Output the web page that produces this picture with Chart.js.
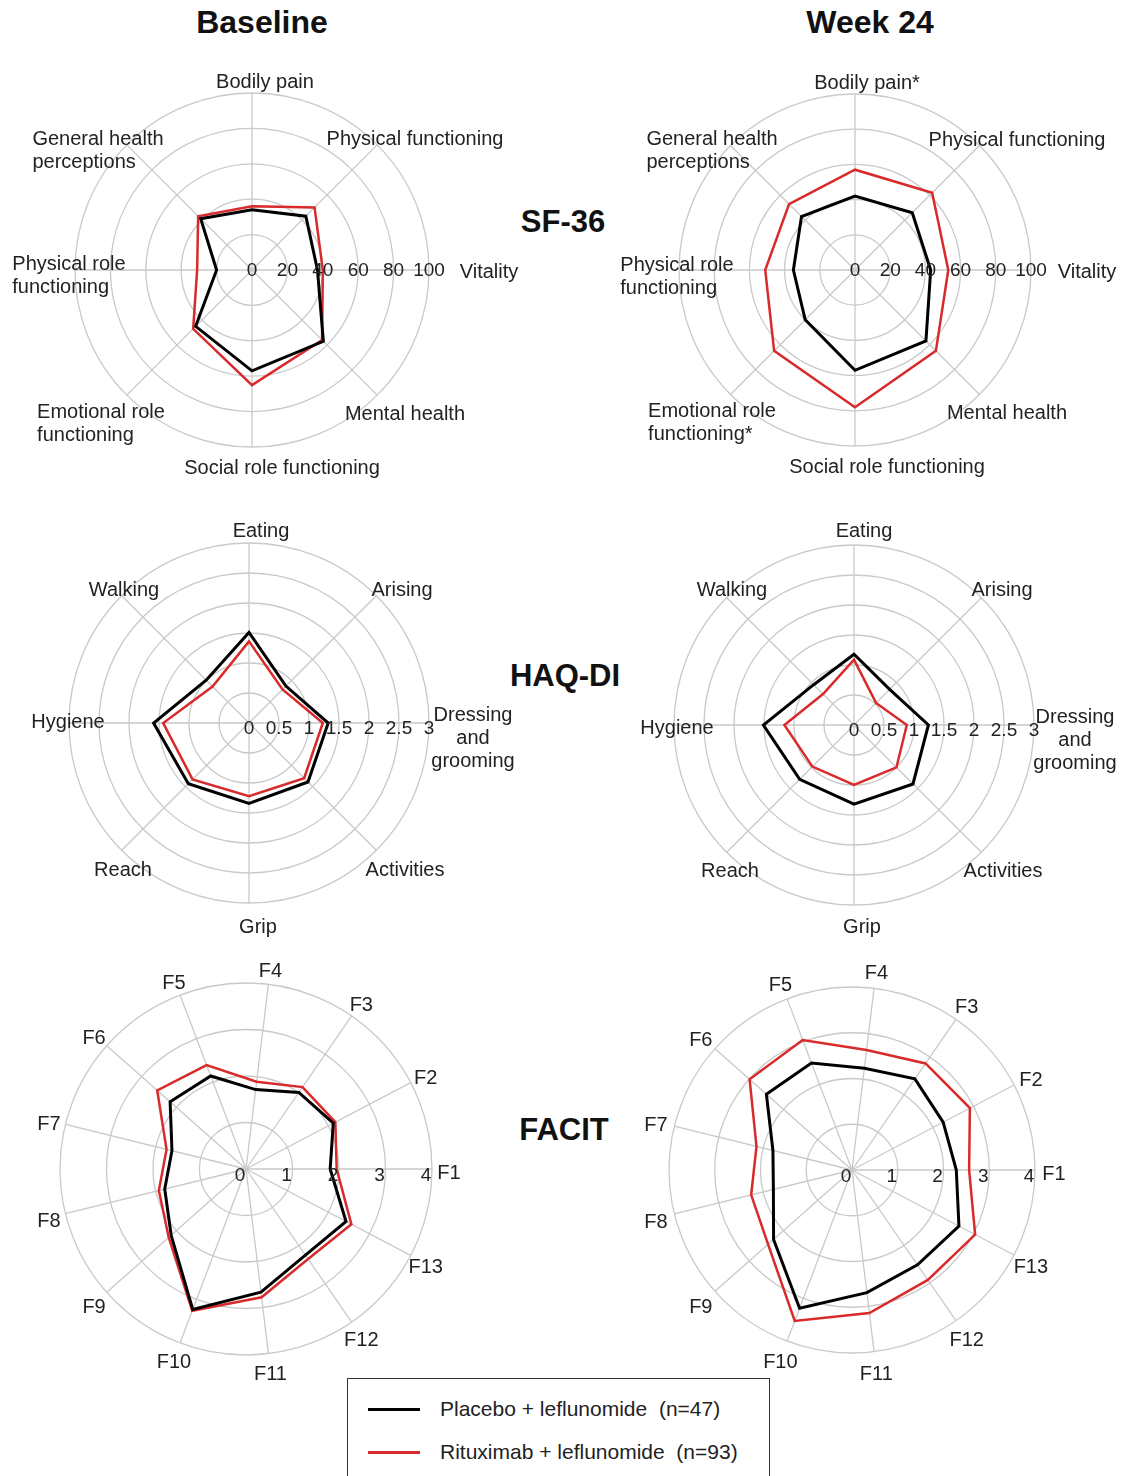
<!DOCTYPE html>
<html>
<head>
<meta charset="utf-8">
<script src="https://cdn.jsdelivr.net/npm/chart.js@4.4.1/dist/chart.umd.min.js"></script>
<style>
  body { margin: 0; background: #fff; width: 1139px; height: 1476px; position: relative; overflow: hidden;
         font-family: "Liberation Sans", Arial, sans-serif; color: #1a1a1a; }
  canvas { position: absolute; }
  .hd { position: absolute; font-weight: bold; font-size: 32px; transform: translate(-50%, -50%); white-space: nowrap; color: #111; }
  .sec { font-size: 31px; }
  #legend { position: absolute; left: 347px; top: 1378px; width: 421px; height: 120px; border: 1.5px solid #333; background: #fff; z-index: 5; }
  .lg-line { position: absolute; left: 20px; width: 52px; }
  .lg-text { position: absolute; left: 92px; font-size: 21px; white-space: pre; transform: translateY(-50%); color: #222; }
</style>
</head>
<body>

<div class="hd" style="left:262px; top:22px;">Baseline</div>
<div class="hd" style="left:870px; top:22px;">Week 24</div>
<div class="hd sec" style="left:563px; top:222px;">SF-36</div>
<div class="hd sec" style="left:565px; top:676px;">HAQ-DI</div>
<div class="hd sec" style="left:564px; top:1130px;">FACIT</div>

<canvas id="sfBase" width="570" height="450" style="left:0px; top:45px;"></canvas>
<canvas id="sfWeek" width="569" height="450" style="left:570px; top:45px;"></canvas>
<canvas id="haqBase" width="570" height="450" style="left:0px; top:497px;"></canvas>
<canvas id="haqWeek" width="569" height="450" style="left:570px; top:497px;"></canvas>
<canvas id="facitBase" width="570" height="450" style="left:0px; top:950px;"></canvas>
<canvas id="facitWeek" width="569" height="450" style="left:570px; top:950px;"></canvas>

<div id="legend">
  <div class="lg-line" style="top:29px; height:3px; background:#000;"></div>
  <div class="lg-text" style="top:30px;">Placebo + leflunomide  (n=47)</div>
  <div class="lg-line" style="top:72px; height:2.5px; background:#d92a2b;"></div>
  <div class="lg-text" style="top:73px;">Rituximab + leflunomide  (n=93)</div>
</div>

<script>
// axes listed counter-clockwise starting at the right-hand (east) axis
var sf36LabelsBase = [['Vitality'], ['Physical functioning'], ['Bodily pain'], ['General health', 'perceptions'],
    ['Physical role', 'functioning'], ['Emotional role', 'functioning'], ['Social role functioning'], ['Mental health']];
var sf36LabelsWeek = [['Vitality'], ['Physical functioning'], ['Bodily pain*'], ['General health', 'perceptions'],
    ['Physical role', 'functioning'], ['Emotional role', 'functioning*'], ['Social role functioning'], ['Mental health']];
var sf36Ticks = [0, 20, 40, 60, 80, 100];

var sf36BasePlacebo = [37, 43, 34, 41, 20, 45, 57, 57];
var sf36BaseRituximab = [40, 50, 36, 43, 31, 47, 65, 56];
var sf36WeekPlacebo = [43, 46, 42, 43, 35, 40, 57, 57];
var sf36WeekRituximab = [53, 62, 57, 53, 51, 65, 78, 65];

var haqLabels = [['Dressing', 'and', 'grooming'], ['Arising'], ['Eating'], ['Walking'], ['Hygiene'], ['Reach'], ['Grip'], ['Activities']];
var haqTicks = [0, 0.5, 1, 1.5, 2, 2.5, 3];

var haqBasePlacebo = [1.32, 0.87, 1.51, 1.01, 1.59, 1.43, 1.34, 1.39];
var haqBaseRituximab = [1.23, 0.79, 1.36, 0.86, 1.43, 1.33, 1.22, 1.30];
var haqWeekPlacebo = [1.24, 0.84, 1.18, 0.95, 1.51, 1.28, 1.32, 1.39];
var haqWeekRituximab = [0.88, 0.52, 1.09, 0.73, 1.16, 0.98, 1.00, 1.00];

var facitLabels = [['F1'], ['F2'], ['F3'], ['F4'], ['F5'], ['F6'], ['F7'], ['F8'], ['F9'], ['F10'], ['F11'], ['F12'], ['F13']];
var facitTicks = [0, 1, 2, 3, 4];

var facitBasePlacebo = [1.81, 2.12, 2.00, 1.72, 2.14, 2.18, 1.64, 1.80, 2.15, 3.23, 2.67, 2.25, 2.43];
var facitBaseRituximab = [1.95, 2.17, 2.14, 1.89, 2.39, 2.55, 1.76, 1.93, 2.22, 3.26, 2.78, 2.35, 2.56];
var facitWeekPlacebo = [2.28, 2.25, 2.42, 2.24, 2.50, 2.50, 1.78, 1.77, 2.29, 3.23, 2.70, 2.52, 2.64];
var facitWeekRituximab = [2.56, 2.91, 2.83, 2.64, 3.04, 2.99, 2.15, 2.27, 2.45, 3.53, 3.15, 2.92, 3.04];

var seriesNames = ['Placebo + leflunomide (n=47)', 'Rituximab + leflunomide (n=93)'];

// Chart.js walks clockwise, the figure goes counter-clockwise: keep index 0 east, flip the rest
function clockwise(arr) {
    return [arr[0]].concat(arr.slice(1).reverse());
}

var FONT = '"Liberation Sans", Arial, sans-serif';

// tick numbers along the east axis + category labels around each web
var radarText = {
    id: 'radarText',
    afterDraw: function (chart) {
        var o = chart.options.plugins.radarText;
        var scale = chart.scales.r;
        var ctx = chart.ctx;
        var n = o.labels.length;
        ctx.save();
        ctx.fillStyle = '#222';
        ctx.textAlign = 'center';
        ctx.textBaseline = 'middle';

        ctx.font = '19px ' + FONT;
        o.ticks.forEach(function (v) {
            var d = scale.getDistanceFromCenterForValue(v);
            var p = scale.getPointPosition(0, Math.max(0, d + o.tickShift));
            if (v === 0) p = { x: scale.xCenter + o.tickShift, y: scale.yCenter };
            ctx.fillText(String(v), p.x, p.y + o.tickDy);
        });

        ctx.font = '20px ' + FONT;
        o.labels.forEach(function (lines, k) {
            var x, y;
            if (o.offsets) {
                x = scale.xCenter + o.offsets[k][0];
                y = scale.yCenter + o.offsets[k][1];
            } else {
                var p = scale.getPointPosition((n - k) % n, scale.drawingArea + o.pad);
                x = p.x;
                y = p.y + o.labelDy;
            }
            var leftAlign = o.leftAlignBlocks && lines.length > 1;
            var w = 0;
            lines.forEach(function (s) { w = Math.max(w, ctx.measureText(s).width); });
            ctx.textAlign = leftAlign ? 'left' : 'center';
            lines.forEach(function (s, li) {
                ctx.fillText(s, leftAlign ? x - w / 2 : x, y + (li - (lines.length - 1) / 2) * 23);
            });
        });
        ctx.restore();
    }
};

function makeRadar(canvasId, cx, cy, r, labels, ticks, placebo, rituximab, textOpts) {
    var canvas = document.getElementById(canvasId);
    var left = parseInt(canvas.style.left, 10);
    var top = parseInt(canvas.style.top, 10);
    var lx = cx - left, ly = cy - top;
    textOpts.labels = labels;
    textOpts.ticks = ticks;

    new Chart(canvas.getContext('2d'), {
        type: 'radar',
        data: {
            labels: clockwise(labels.map(function (l) { return l.join(' '); })),
            datasets: [
                {
                    label: seriesNames[0],
                    data: clockwise(placebo),
                    borderColor: '#000',
                    borderWidth: 3,
                    fill: false,
                    pointRadius: 0,
                    tension: 0
                },
                {
                    label: seriesNames[1],
                    data: clockwise(rituximab),
                    borderColor: '#d92a2b',
                    borderWidth: 2.5,
                    fill: false,
                    pointRadius: 0,
                    tension: 0
                }
            ]
        },
        options: {
            responsive: false,
            animation: false,
            devicePixelRatio: 1,
            layout: {
                padding: {
                    left: lx - r,
                    top: ly - r,
                    right: canvas.width - lx - r,
                    bottom: canvas.height - ly - r
                }
            },
            plugins: {
                legend: { display: false },
                tooltip: { enabled: false },
                radarText: textOpts
            },
            scales: {
                r: {
                    min: ticks[0],
                    max: ticks[ticks.length - 1],
                    startAngle: 90,
                    ticks: { display: false, stepSize: ticks[1] - ticks[0] },
                    pointLabels: { display: false },
                    grid: { circular: true, color: '#c9c9c9', lineWidth: 1.3 },
                    angleLines: { color: '#c9c9c9', lineWidth: 1.3 }
                }
            }
        },
        plugins: [radarText]
    });
}

makeRadar('sfBase', 252, 270, 177, sf36LabelsBase, sf36Ticks, sf36BasePlacebo, sf36BaseRituximab, {
    tickShift: 0, tickDy: 1, leftAlignBlocks: true,
    offsets: [[237, 2], [163, -131], [13, -188], [-154, -119], [-183, 6], [-151, 154], [30, 198], [153, 144]]
});
makeRadar('sfWeek', 855, 270, 176, sf36LabelsWeek, sf36Ticks, sf36WeekPlacebo, sf36WeekRituximab, {
    tickShift: 0, tickDy: 1, leftAlignBlocks: true,
    offsets: [[232, 2], [162, -130], [12, -187], [-143, -119], [-178, 7], [-143, 153], [32, 197], [152, 143]]
});
makeRadar('haqBase', 249, 723, 180, haqLabels, haqTicks, haqBasePlacebo, haqBaseRituximab, {
    tickShift: 0, tickDy: 6,
    offsets: [[224, 15], [153, -133], [12, -192], [-125, -133], [-181, -1], [-126, 147], [9, 204], [156, 147]]
});
makeRadar('haqWeek', 854, 725, 180, haqLabels, haqTicks, haqWeekPlacebo, haqWeekRituximab, {
    tickShift: 0, tickDy: 6,
    offsets: [[221, 15], [148, -135], [10, -194], [-122, -135], [-177, 3], [-124, 146], [8, 202], [149, 146]]
});
makeRadar('facitBase', 246, 1169, 186, facitLabels, facitTicks, facitBasePlacebo, facitBaseRituximab, {
    tickShift: -6, tickDy: 7, pad: 17, labelDy: 4
});
makeRadar('facitWeek', 852, 1170, 183, facitLabels, facitTicks, facitWeekPlacebo, facitWeekRituximab, {
    tickShift: -6, tickDy: 7, pad: 19, labelDy: 4
});
</script>
</body>
</html>
